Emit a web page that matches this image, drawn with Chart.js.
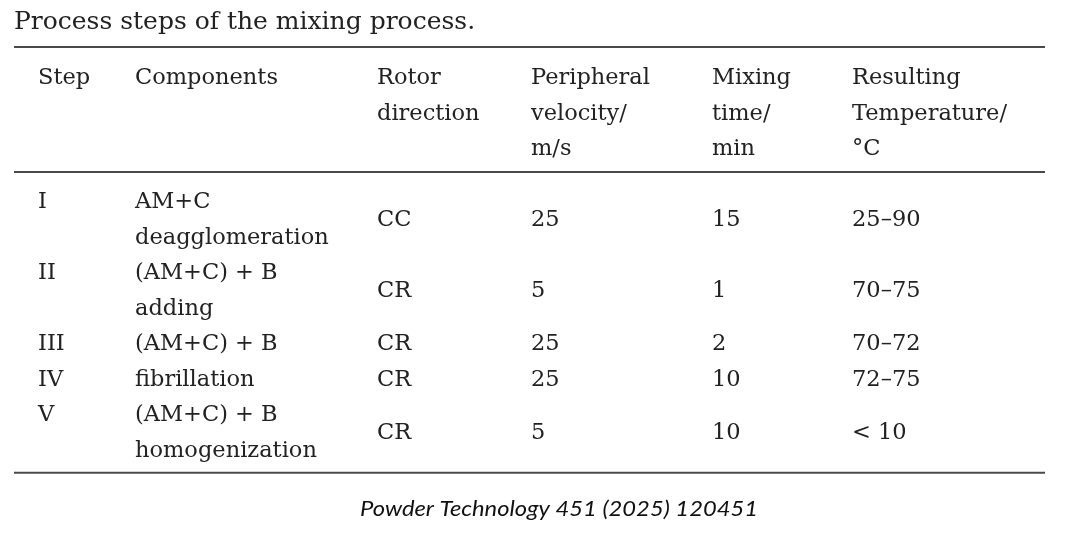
<!DOCTYPE html>
<html>
<head>
<meta charset="utf-8">
<script src="https://cdn.jsdelivr.net/npm/chart.js@4"></script>
<style>
  html, body { margin: 0; padding: 0; background: #ffffff; }
  #wrap { width: 1080px; height: 541px; position: relative; }
</style>
</head>
<body>
<div id="wrap"><canvas id="c"></canvas></div>
<script>
// ---------- data ----------
const tableTitle = "Process steps of the mixing process.";
const sourceCaption = "Powder Technology 451 (2025) 120451";
const headers = [
  ["Step"],
  ["Components"],
  ["Rotor", "direction"],
  ["Peripheral", "velocity/", "m/s"],
  ["Mixing", "time/", "min"],
  ["Resulting", "Temperature/", "°C"]
];
const steps = ["I", "II", "III", "IV", "V"];
const components = [
  ["AM+C", "deagglomeration"],
  ["(AM+C) + B", "adding"],
  ["(AM+C) + B"],
  ["fibrillation"],
  ["(AM+C) + B", "homogenization"]
];
const rotorDirection = ["CC", "CR", "CR", "CR", "CR"];
const peripheralVelocity = [25, 5, 25, 25, 5];
const mixingTime = [15, 1, 2, 10, 10];
const resultingTemperature = ["25–90", "70–75", "70–72", "72–75", "< 10"];

// ---------- layout (styles, not data) ----------
const colLeft = [38, 135, 377, 531, 712, 852];   // column text anchors (px on x scale)
const ruleLeft = 14, ruleRight = 1045;
const bodyGap = 1.5;   // line units between header and body
const textColor = "#222222";
const ruleColor = "#4a4a4a";
const serif = "'DejaVu Serif', 'Liberation Serif', serif";
const captionWidth = 398;

// build cells: {x, y(line index), text}
const cells = [];
headers.forEach((lines, c) => lines.forEach((t, i) => cells.push({ x: colLeft[c], y: i, text: t })));
let line = headers.reduce((m, h) => Math.max(m, h.length), 0) - 1 + bodyGap;
steps.forEach((s, r) => {
  const rowCols = [[s], components[r], [rotorDirection[r]], [String(peripheralVelocity[r])], [String(mixingTime[r])], [resultingTemperature[r]]];
  const n = rowCols.reduce((m, a) => Math.max(m, a.length), 0);
  rowCols.forEach((lines, c) => {
    // step label is top aligned; other single-line cells are centred in the row
    const offset = (c === 0) ? 0 : (n - lines.length) / 2;
    lines.forEach((t, i) => cells.push({ x: colLeft[c], y: line + offset + i, text: t }));
  });
  line += n;
});
const lastLine = line - 1;

const tablePlugin = {
  id: 'tablePlugin',
  beforeDraw(chart) {
    const ctx = chart.ctx;
    ctx.save();
    ctx.fillStyle = '#ffffff';
    ctx.fillRect(0, 0, chart.width, chart.height);
    ctx.restore();
  },
  afterDatasetsDraw(chart) {
    const ctx = chart.ctx;
    const ys = chart.scales.y;
    const meta = chart.getDatasetMeta(0);
    ctx.save();
    // title
    ctx.fillStyle = textColor;
    ctx.font = "25px " + serif;
    ctx.textBaseline = 'alphabetic';
    ctx.textAlign = 'left';
    ctx.fillText(tableTitle, ruleLeft, 29);
    // rules
    ctx.strokeStyle = ruleColor;
    ctx.lineWidth = 2;
    const rules = [ys.getPixelForValue(0) - 29, ys.getPixelForValue(2) + 25, ys.getPixelForValue(lastLine) + 24];
    rules.forEach(y => { ctx.beginPath(); ctx.moveTo(ruleLeft, y); ctx.lineTo(ruleRight, y); ctx.stroke(); });
    // cells
    ctx.font = "22.5px " + serif;
    ctx.textBaseline = 'alphabetic';
    meta.data.forEach((el, i) => {
      ctx.fillText(cells[i].text, el.x, el.y + 8);
    });
    // caption
    ctx.font = "italic 21px Lato, 'Liberation Sans', Arial, sans-serif";
    ctx.textAlign = 'center';
    ctx.fillStyle = '#111111';
    const w = ctx.measureText(sourceCaption).width;
    const sx = Math.max(0.85, Math.min(1.15, captionWidth / w));
    ctx.save();
    ctx.translate(559, 516);
    ctx.scale(sx, 1);
    ctx.fillText(sourceCaption, 0, 0);
    ctx.restore();
    ctx.restore();
  }
};

new Chart(document.getElementById('c'), {
  type: 'scatter',
  data: {
    datasets: [{
      data: cells.map(c => ({ x: c.x, y: c.y })),
      pointRadius: 0,
      pointHoverRadius: 0
    }]
  },
  options: {
    responsive: true,
    maintainAspectRatio: false,
    animation: false,
    events: [],
    layout: { padding: { top: 76, bottom: 39, left: 0, right: 0 } },
    plugins: { legend: { display: false }, tooltip: { enabled: false }, title: { display: false } },
    scales: {
      x: { type: 'linear', min: 0, max: 1080, display: false },
      y: { type: 'linear', min: 0, max: 12, reverse: true, display: false }
    }
  },
  plugins: [tablePlugin]
});
</script>
</body>
</html>
